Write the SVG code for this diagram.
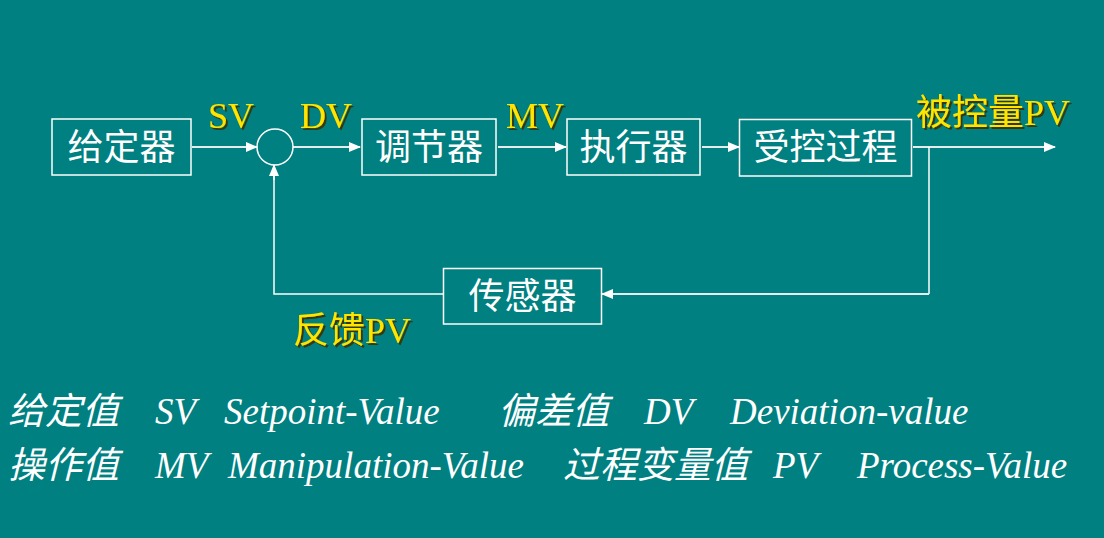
<svg xmlns="http://www.w3.org/2000/svg" width="1104" height="538" viewBox="0 0 1104 538">
<style>
.box{fill:none;stroke:#ffffff;stroke-width:1.5}
.bt{font-family:"Liberation Serif","Noto Sans CJK SC",serif;font-size:36px;fill:#ffffff;text-anchor:middle}
.lbl{font-family:"Liberation Serif","Noto Sans CJK SC",serif;font-size:36px;fill:#ffe400;filter:url(#sh)}
.leg{font-family:"Liberation Serif","Noto Sans CJK SC",serif;font-size:37px;font-style:italic;fill:#ffffff}
.ln{fill:none;stroke:#e4ecec;stroke-width:2}
.fb{fill:none;stroke:#ffffff;stroke-width:1.5}
</style>
<defs>
<marker id="ah" markerWidth="12" markerHeight="10" refX="11" refY="5" orient="auto" markerUnits="userSpaceOnUse">
<path d="M0,0 L12,5 L0,10 Z" fill="#ffffff"/>
</marker>
<filter id="sh" x="-10%" y="-10%" width="130%" height="140%">
<feDropShadow dx="2" dy="2" stdDeviation="0.6" flood-color="#3a3000" flood-opacity="0.9"/>
</filter>
</defs>
<rect x="0" y="0" width="1104" height="538" fill="#008080"/>

<g id="connectors">
<line class="ln" x1="192" y1="147" x2="257" y2="147" marker-end="url(#ah)"/>
<line class="ln" x1="293" y1="147" x2="360" y2="147" marker-end="url(#ah)"/>
<line class="ln" x1="498" y1="147" x2="566" y2="147" marker-end="url(#ah)"/>
<line class="ln" x1="702" y1="147" x2="739" y2="147" marker-end="url(#ah)"/>
<line class="ln" x1="913" y1="147" x2="1055" y2="147" marker-end="url(#ah)"/>
<polyline class="fb" points="929,147 929,294"/>
<line class="ln" x1="929" y1="294" x2="602" y2="294" marker-end="url(#ah)"/>
<polyline class="fb" points="443,294 274,294 274,176"/>
<line class="fb" x1="274" y1="180" x2="274" y2="165" marker-end="url(#ah)"/>
</g>

<g id="setpoint"><rect class="box" x="52" y="119" width="139" height="56"/><text class="bt" x="121.5" y="160">给定器</text></g>
<g id="sum"><circle cx="275" cy="147" r="18" fill="none" stroke="#ffffff" stroke-width="1.5"/></g>
<g id="controller"><rect class="box" x="362" y="119" width="134" height="56"/><text class="bt" x="429" y="160">调节器</text></g>
<g id="actuator"><rect class="box" x="567" y="119" width="133" height="56"/><text class="bt" x="633.5" y="160">执行器</text></g>
<g id="process"><rect class="box" x="739.5" y="119.5" width="172" height="56.5"/><text class="bt" x="825.5" y="160">受控过程</text></g>
<g id="sensor"><rect class="box" x="443.5" y="268.5" width="158" height="55.5"/><text class="bt" x="522.5" y="309">传感器</text></g>

<g id="labels">
<text class="lbl" x="208" y="128">SV</text>
<text class="lbl" x="300" y="128">DV</text>
<text class="lbl" x="506" y="128">MV</text>
<text class="lbl" x="916" y="125">被控量PV</text>
<text class="lbl" x="293" y="343">反馈PV</text>
</g>

<g id="legend">
<text class="leg" x="8" y="424">给定值</text>
<text class="leg" x="155" y="424">SV</text>
<text class="leg" x="224" y="424">Setpoint-Value</text>
<text class="leg" x="498" y="424">偏差值</text>
<text class="leg" x="644" y="424">DV</text>
<text class="leg" x="730" y="424">Deviation-value</text>
<text class="leg" x="8" y="478">操作值</text>
<text class="leg" x="155" y="478">MV</text>
<text class="leg" x="228" y="478">Manipulation-Value</text>
<text class="leg" x="563" y="478">过程变量值</text>
<text class="leg" x="773" y="478">PV</text>
<text class="leg" x="857" y="478">Process-Value</text>
</g>
</svg>
